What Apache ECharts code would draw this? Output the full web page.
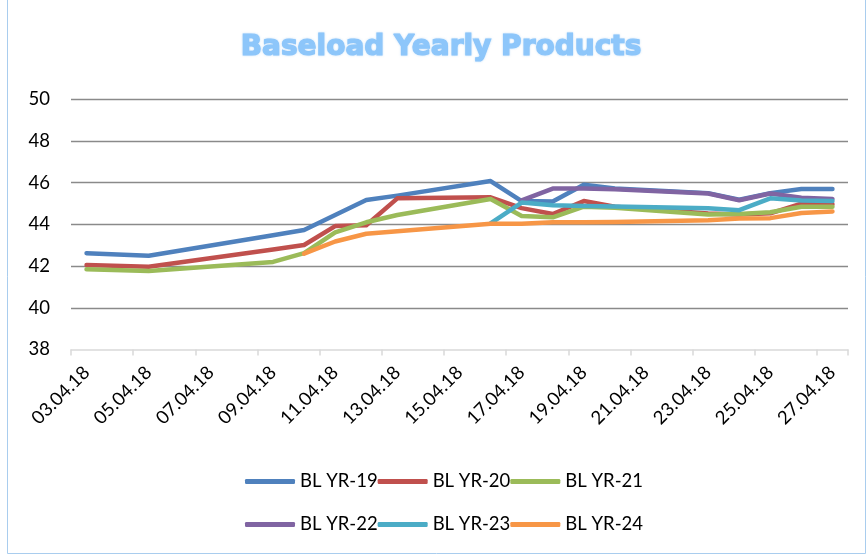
<!DOCTYPE html>
<html>
<head>
<meta charset="utf-8">
<script src="https://cdn.jsdelivr.net/npm/echarts@6/dist/echarts.min.js"></script>
<style>html,body{margin:0;padding:0;background:#fff}#c{width:868px;height:557px}</style>
</head>
<body>
<div id="c"></div>
<script>
// Axis categories (every calendar day on the axis)
const categories = ['03.04.18','04.04.18','05.04.18','06.04.18','07.04.18','08.04.18','09.04.18','10.04.18','11.04.18','12.04.18','13.04.18','14.04.18','15.04.18','16.04.18','17.04.18','18.04.18','19.04.18','20.04.18','21.04.18','22.04.18','23.04.18','24.04.18','25.04.18','26.04.18','27.04.18'];
// Observation dates
const obsDates = ['03.04.18','05.04.18','09.04.18','10.04.18','11.04.18','12.04.18','13.04.18','16.04.18','17.04.18','18.04.18','19.04.18','20.04.18','23.04.18','24.04.18','25.04.18','26.04.18','27.04.18'];
const yr19 = [42.62, 42.50, 43.48, 43.73, 44.45, 45.17, 45.38, 46.08, 45.12, 45.10, 45.90, 45.72, 45.50, 45.18, 45.50, 45.70, 45.70];
const yr20 = [42.05, 41.97, 42.80, 43.01, 43.92, 43.96, 45.25, 45.30, 44.78, 44.50, 45.12, 44.85, 44.52, 44.47, 44.53, 45.00, 44.97];
const yr21 = [41.85, 41.77, 42.20, 42.62, 43.62, 44.10, 44.45, 45.22, 44.40, 44.34, 44.85, 44.80, 44.47, 44.50, 44.58, 44.85, 44.85];
const yr22 = [null, null, null, null, null, null, null, null, 45.15, 45.72, 45.72, 45.68, 45.48, 45.16, 45.48, 45.28, 45.22];
const yr23 = [null, null, null, null, null, null, null, 44.05, 45.05, 44.92, 44.88, 44.86, 44.78, 44.68, 45.25, 45.15, 45.12];
const yr24 = [null, null, null, 42.60, 43.18, 43.55, 43.67, 44.03, 44.03, 44.10, 44.10, 44.12, 44.20, 44.28, 44.30, 44.55, 44.62];
const yTicks = [38, 40, 42, 44, 46, 48, 50];
const seriesNames = ['BL YR-19','BL YR-20','BL YR-21','BL YR-22','BL YR-23','BL YR-24'];
const seriesValues = [yr19, yr20, yr21, yr22, yr23, yr24];
const colors = ['#4F81BD','#C0504D','#9BBB59','#8064A2','#4BACC6','#F79646'];

const FONT = 'Lato, "Open Sans", sans-serif';
const chart = echarts.init(document.getElementById('c'));

const series = seriesNames.map((name, i) => ({
  name,
  type: 'line',
  showSymbol: false,
  symbol: 'none',
  animation: false,
  lineStyle: { width: 4.5, color: colors[i], cap: 'round', join: 'round' },
  itemStyle: { color: colors[i] },
  data: obsDates.map((d, k) => [d, seriesValues[i][k]]).filter(p => p[1] !== null)
}));

const legendBase = {
  icon: 'roundRect',
  itemWidth: 50,
  itemHeight: 5,
  itemGap: 0,
  padding: 0,
  left: 245,
  orient: 'horizontal',
  textStyle: { fontFamily: FONT, fontSize: 18.5, color: '#000', width: 80 },
  selectedMode: false
};

chart.setOption({
  backgroundColor: '#fff',
  animation: false,
  color: colors,
  title: {
    text: 'Baseload Yearly Products',
    left: 441,
    textAlign: 'center',
    top: 34,
    padding: 0,
    textStyle: {
      fontFamily: '"DejaVu Sans", sans-serif',
      fontWeight: 'bold',
      fontSize: 28,
      color: '#8DC6FA',
      textBorderColor: '#8DC6FA',
      textBorderWidth: 1.2,
      textShadowColor: 'rgba(141,198,250,0.5)',
      textShadowBlur: 2
    }
  },
  graphic: [{
    type: 'rect',
    shape: { x: 7.5, y: -1, width: 858, height: 554.5 },
    style: { fill: 'none', stroke: '#A9CDEE', lineWidth: 1 },
    silent: true
  }],
  legend: [
    Object.assign({}, legendBase, { top: 472, data: seriesNames.slice(0, 3) }),
    Object.assign({}, legendBase, { top: 515, data: seriesNames.slice(3, 6) })
  ],
  grid: { left: 71, right: 20, top: 99.3, bottom: 207.5, containLabel: false },
  xAxis: {
    type: 'category',
    data: categories,
    boundaryGap: true,
    axisLine: { lineStyle: { color: '#D9D9D9', width: 1.5 } },
    axisTick: { show: true, interval: 1, length: 6, lineStyle: { color: '#D9D9D9', width: 1.5 } },
    axisLabel: { interval: 1, rotate: 45, margin: 20, fontFamily: FONT, fontSize: 18.5, color: '#000' },
    splitLine: { show: false }
  },
  yAxis: {
    type: 'value',
    min: yTicks[0],
    max: yTicks[yTicks.length - 1],
    interval: 2,
    axisLine: { show: false },
    axisTick: { show: false },
    axisLabel: { margin: 21, fontFamily: FONT, fontSize: 18.5, color: '#000', formatter: v => String(v) },
    splitLine: { show: true, lineStyle: { color: ['rgba(0,0,0,0)', '#8A8A8A', '#8A8A8A', '#8A8A8A', '#8A8A8A', '#8A8A8A', '#8A8A8A'], width: 1.3 } }
  },
  series
});
</script>
</body>
</html>
